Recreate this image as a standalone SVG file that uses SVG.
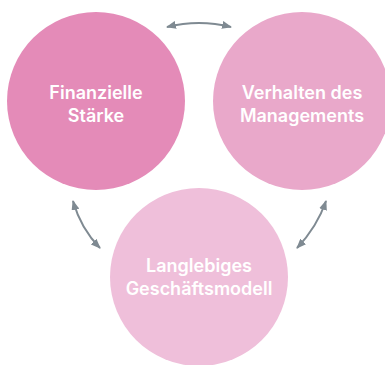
<svg xmlns="http://www.w3.org/2000/svg" width="385" height="365" viewBox="0 0 385 365">
<defs>
<style>
.t{font-family:Inter,"Noto Sans","Liberation Sans",sans-serif;font-size:18px;font-weight:600;fill:#ffffff;text-anchor:middle}
.c{fill:none;stroke:#7f8a92;stroke-width:2}
</style>
<marker id="ah" viewBox="0 0 10 8" refX="9" refY="4" markerWidth="10" markerHeight="8" markerUnits="userSpaceOnUse" orient="auto-start-reverse">
<path d="M0,0 L10,4 L0,8 Z" fill="#7f8a92"/>
</marker>
</defs>
<rect width="385" height="365" fill="#ffffff"/>
<g id="connectors">
<path class="c" d="M167,27 Q199,19 231,27" marker-start="url(#ah)" marker-end="url(#ah)"/>
<path class="c" d="M73,201 Q81,229 100,248" marker-start="url(#ah)" marker-end="url(#ah)"/>
<path class="c" d="M326,201 Q317,227 297,248" marker-start="url(#ah)" marker-end="url(#ah)"/>
</g>
<g id="node-finanzielle">
<circle cx="96" cy="101" r="89" fill="#e48bb8"/>
<text class="t" x="96" y="99">Finanzielle</text>
<text class="t" x="96" y="122">Stärke</text>
</g>
<g id="node-verhalten">
<circle cx="302" cy="101" r="89" fill="#e9a8ca"/>
<text class="t" x="302" y="99">Verhalten des</text>
<text class="t" x="302" y="122">Managements</text>
</g>
<g id="node-langlebiges">
<circle cx="199" cy="277" r="89" fill="#efbfda"/>
<text class="t" x="199" y="272">Langlebiges</text>
<text class="t" x="199" y="295">Geschäftsmodell</text>
</g>
</svg>
